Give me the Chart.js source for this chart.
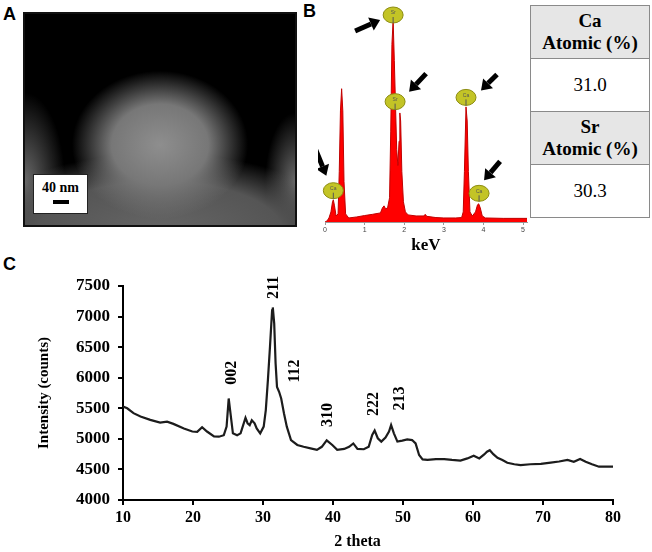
<!DOCTYPE html>
<html lang="en">
<head>
  <meta charset="UTF-8" />
  <title>SrHAp characterisation</title>
  <script src="https://cdn.jsdelivr.net/npm/chart.js"></script>
  <style>
    body {
      margin: 0;
      background: #fff;
      font-family: "Liberation Serif", "Times New Roman", serif;
    }

    .page {
      position: relative;
      width: 652px;
      height: 552px;
      overflow: hidden;
    }

    .panel-letter {
      position: absolute;
      font-family: "Liberation Sans", Arial, sans-serif;
      font-weight: bold;
      font-size: 18px;
    }

    /* SEM micrograph can't be redrawn, just a rough stand-in */
    .sem {
      position: absolute;
      left: 23px;
      top: 12px;
      width: 270px;
      height: 211px;
      border: 2px solid #111;
      background:
        radial-gradient(ellipse 88px 74px at 50% 62%, #8e8e8e 0%, #777 55%, rgba(0,0,0,0) 100%),
        radial-gradient(ellipse 190px 80px at 50% 104%, #666 0%, #555 65%, rgba(0,0,0,0) 100%),
        radial-gradient(ellipse 40px 90px at 0% 80%, #6a6a6a 0%, rgba(0,0,0,0) 100%),
        radial-gradient(ellipse 30px 70px at 100% 80%, #6a6a6a 0%, rgba(0,0,0,0) 100%),
        #000;
    }

    .scale-box {
      position: absolute;
      left: 8px;
      top: 160px;
      width: 55px;
      height: 40px;
      background: #fff;
      border: 1px solid #222;
      text-align: center;
      font-weight: bold;
      font-size: 14px;
      line-height: 20px;
      padding-top: 3px;
      box-sizing: border-box;
    }

    .scale-box .bar {
      width: 16px;
      height: 4px;
      background: #000;
      margin: 2px auto 0;
    }

    #edsBox {
      position: absolute;
      left: 318px;
      top: 0;
    }

    table.atomic {
      position: absolute;
      left: 530px;
      top: 5px;
      width: 120px;
      border-collapse: collapse;
      font-family: "Liberation Serif", "Times New Roman", serif;
      font-size: 19px;
      text-align: center;
    }

    table.atomic td {
      border: 1.5px solid #8a8a8a;
      height: 52px;
      padding: 0;
      line-height: 22px;
    }

    table.atomic td.head {
      background: #e6e6e6;
      font-weight: bold;
    }

    #xrdBox {
      position: absolute;
      left: 0;
      top: 262px;
    }
  </style>
</head>
<body>
<div class="page">
  <div class="panel-letter" style="left:3px; top:4px;">A</div>
  <div class="sem">
    <div class="scale-box">40 nm<div class="bar"></div></div>
  </div>

  <div class="panel-letter" style="left:303px; top:1px;">B</div>
  <div id="edsBox"><canvas id="edsChart" width="212" height="256"></canvas></div>

  <table class="atomic">
    <tr><td class="head">Ca<br>Atomic (%)</td></tr>
    <tr><td>31.0</td></tr>
    <tr><td class="head">Sr<br>Atomic (%)</td></tr>
    <tr><td>30.3</td></tr>
  </table>

  <div class="panel-letter" style="left:3px; top:254px;">C</div>
  <div id="xrdBox"><canvas id="xrdChart" width="652" height="290"></canvas></div>
</div>

<script>
  // ---- panel B: EDS spectrum (relative counts vs keV)
  const edsKeV = [0, 0.05, 0.10, 0.15, 0.19, 0.21, 0.24, 0.28, 0.33, 0.36, 0.39, 0.42, 0.45, 0.48, 0.52,
    0.60, 0.80, 1.00, 1.20, 1.40, 1.45, 1.49, 1.53, 1.58, 1.63, 1.66, 1.69, 1.72, 1.75, 1.78, 1.81,
    1.84, 1.87, 1.89, 1.91, 1.94, 1.98, 2.03, 2.10, 2.30, 2.50, 2.53, 2.57, 2.80, 3.00, 3.30, 3.45,
    3.49, 3.52, 3.56, 3.59, 3.62, 3.66, 3.72, 3.80, 3.85, 3.88, 3.92, 3.97, 4.05, 4.50, 5.00, 5.10];
  const edsCounts = [0, 0.5, 2, 5, 10, 11, 8, 3, 4, 25, 55, 66, 55, 20, 4,
    2, 2.5, 3.2, 3.8, 4.5, 7, 8, 6.5, 7, 12, 45, 88, 100, 80, 58, 36,
    28, 40, 54, 50, 25, 10, 5, 3.5, 3, 3, 3.8, 2.8, 2.2, 2, 2, 2.2,
    5, 25, 57, 50, 25, 5, 3, 5, 8.5, 9, 7, 3, 2, 1.8, 1.8, 1.8];
  const edsTicks = [0, 1, 2, 3, 4, 5];

  // element markers on the spectrum
  const markerLabels = ['Ca', 'Sr', 'Sr', 'Ca', 'Ca'];
  const markerKeV = [0.21, 1.72, 1.77, 3.56, 3.89];
  const markerLevel = [15.5, 102.5, 59.6, 61.7, 14.2];

  // ---- panel C: XRD pattern
  const xrdTheta = [10, 10.6, 11.5, 12.5, 13.9, 15.3, 16.3, 17.2, 18.7, 19.9, 20.6, 21.3, 22, 23, 23.7,
    24.4, 24.8, 25.1, 25.3, 25.7, 26.3, 26.8, 27.1, 27.5, 27.8, 28.1, 28.4, 28.8, 29.1, 29.6, 30.1,
    30.4, 30.7, 31.0, 31.3, 31.4, 31.6, 31.8, 32.0, 32.3, 32.6, 33.0, 33.4, 34.0, 34.9, 35.8, 36.8,
    37.7, 38.4, 39.1, 39.9, 40.6, 41.6, 42.3, 42.9, 43.5, 44.4, 45.1, 45.6, 45.95, 46.4, 46.9, 47.5,
    48.0, 48.3, 48.7, 49.2, 49.9, 50.6, 51.3, 51.8, 52.3, 52.8, 53.5, 54.7, 55.9, 57.0, 58.2, 59.2,
    60.1, 60.9, 61.6, 62.0, 62.4, 62.9, 63.5, 64.2, 64.9, 65.9, 66.8, 68.2, 69.7, 71.1, 72.3, 73.5,
    74.4, 75.3, 76.1, 77.0, 78.0, 79.0, 80];
  const xrdCounts = [5530, 5500, 5420, 5365, 5310, 5265, 5280, 5245, 5170, 5120, 5115, 5190, 5120, 5040, 5035,
    5060, 5200, 5660, 5470, 5090, 5060, 5090, 5200, 5345, 5255, 5225, 5305, 5255, 5170, 5090, 5200,
    5470, 5960, 6510, 7100, 7150, 6890, 6235, 5850, 5770, 5660, 5415, 5200, 4980, 4900, 4870, 4845,
    4820, 4870, 4975, 4900, 4820, 4835, 4870, 4925, 4835, 4830, 4870, 5065, 5135, 5010, 4955, 5020,
    5120, 5225, 5090, 4955, 4970, 4990, 4980, 4925, 4735, 4665, 4655, 4670, 4670, 4655, 4645, 4680,
    4725, 4680, 4745, 4790, 4815, 4750, 4690, 4655, 4610, 4585, 4570, 4585, 4590, 4610, 4630, 4655,
    4625, 4670, 4625, 4585, 4545, 4545, 4545];
  const xrdYTicks = [4000, 4500, 5000, 5500, 6000, 6500, 7000, 7500];
  const xrdXTicks = [10, 20, 30, 40, 50, 60, 70, 80];

  // hkl labels (centre of the rotated text)
  const peakLabels = ['002', '211', '112', '310', '222', '213'];
  const peakTheta = [25.6, 31.5, 34.6, 39.3, 45.9, 49.5];
  const peakLevel = [6080, 7475, 6110, 5390, 5570, 5660];

  const serif = '"Liberation Serif", "Times New Roman", serif';

  // arrows pointing at the markers: [tailDx, tailDy, headDx, headDy] from marker centre
  const arrowGeom = [[-18, -42, -7, -15], [-38, 16, -13, 5], [31, -28, 14, -10], [31, -23, 15, -7], [21, -32, 5, -13]];

  function drawArrow(ctx, x0, y0, x1, y1) {
    const ang = Math.atan2(y1 - y0, x1 - x0);
    const headLen = 10, headW = 7;
    const bx = x1 - Math.cos(ang) * headLen;
    const by = y1 - Math.sin(ang) * headLen;
    ctx.strokeStyle = '#000';
    ctx.fillStyle = '#000';
    ctx.lineWidth = 5;
    ctx.beginPath();
    ctx.moveTo(x0, y0);
    ctx.lineTo(bx, by);
    ctx.stroke();
    ctx.beginPath();
    ctx.moveTo(x1, y1);
    ctx.lineTo(bx + Math.sin(ang) * headW, by - Math.cos(ang) * headW);
    ctx.lineTo(bx - Math.sin(ang) * headW, by + Math.cos(ang) * headW);
    ctx.closePath();
    ctx.fill();
  }

  const edsMarkers = {
    id: 'edsMarkers',
    afterDatasetsDraw(chart) {
      const ctx = chart.ctx;
      const xs = chart.scales.x, ys = chart.scales.y;
      ctx.save();
      markerLabels.forEach((lab, i) => {
        const px = xs.getPixelForValue(markerKeV[i]);
        const py = ys.getPixelForValue(markerLevel[i]);
        ctx.beginPath();
        ctx.ellipse(px, py, 10, 8, 0, 0, Math.PI * 2);
        ctx.fillStyle = '#c3c426';
        ctx.fill();
        ctx.lineWidth = 1;
        ctx.strokeStyle = '#8c8c12';
        ctx.stroke();
        ctx.beginPath();
        ctx.moveTo(px, py + 2);
        ctx.lineTo(px, py + 8);
        ctx.strokeStyle = '#555';
        ctx.stroke();
        ctx.fillStyle = '#555';
        ctx.font = '5px "Liberation Sans", Arial, sans-serif';
        ctx.textAlign = 'center';
        ctx.textBaseline = 'middle';
        ctx.fillText(lab, px, py - 2);
        const g = arrowGeom[i];
        drawArrow(ctx, px + g[0], py + g[1], px + g[2], py + g[3]);
      });
      ctx.restore();
    }
  };

  new Chart(document.getElementById('edsChart'), {
    type: 'line',
    data: {
      datasets: [{
        data: edsKeV.map((k, i) => ({ x: k, y: edsCounts[i] })),
        borderColor: '#c00000',
        backgroundColor: '#ff0000',
        borderWidth: 1,
        pointRadius: 0,
        tension: 0,
        fill: 'origin'
      }]
    },
    options: {
      responsive: false,
      animation: false,
      layout: { padding: { left: 7, right: 3, top: 15, bottom: 0 } },
      plugins: { legend: { display: false }, tooltip: { enabled: false } },
      scales: {
        x: {
          type: 'linear',
          min: 0,
          max: 5.1,
          afterBuildTicks: s => { s.ticks = edsTicks.map(v => ({ value: v })); },
          afterFit: s => { s.height = 34; },
          ticks: { font: { size: 7, family: '"Liberation Sans", Arial, sans-serif' }, color: '#444', padding: 1, maxRotation: 0 },
          grid: { drawOnChartArea: false, tickLength: 3, color: '#999' },
          border: { color: '#999', width: 1 },
          title: { display: true, text: 'keV', color: '#000', font: { size: 17, weight: 'bold', family: serif }, padding: { top: 0, bottom: 0 } }
        },
        y: { display: false, min: 0, max: 102.5 }
      }
    },
    plugins: [edsMarkers]
  });

  const xrdText = {
    id: 'xrdText',
    afterDraw(chart) {
      const ctx = chart.ctx;
      const xs = chart.scales.x, ys = chart.scales.y;
      ctx.save();
      ctx.fillStyle = '#000';
      ctx.font = 'bold 16px ' + serif;
      ctx.textAlign = 'center';
      ctx.textBaseline = 'middle';
      peakLabels.forEach((lab, i) => {
        ctx.save();
        ctx.translate(xs.getPixelForValue(peakTheta[i]), ys.getPixelForValue(peakLevel[i]));
        ctx.rotate(-Math.PI / 2);
        ctx.fillText(lab, 0, 0);
        ctx.restore();
      });
      // x axis title sits left of centre in the original
      ctx.fillText('2 theta', xs.getPixelForValue(43.5), 280);
      ctx.restore();
    }
  };

  new Chart(document.getElementById('xrdChart'), {
    type: 'line',
    data: {
      datasets: [{
        data: xrdTheta.map((t, i) => ({ x: t, y: xrdCounts[i] })),
        borderColor: '#1c1c1c',
        borderWidth: 2.2,
        pointRadius: 0,
        tension: 0,
        fill: false
      }]
    },
    options: {
      responsive: false,
      animation: false,
      layout: { padding: { left: 0, right: 39, top: 24, bottom: 0 } },
      plugins: { legend: { display: false }, tooltip: { enabled: false } },
      scales: {
        x: {
          type: 'linear',
          min: 10,
          max: 80,
          afterBuildTicks: s => { s.ticks = xrdXTicks.map(v => ({ value: v })); },
          afterFit: s => { s.height = 52; },
          ticks: { font: { size: 16, weight: 'bold', family: serif }, color: '#000', padding: 3, maxRotation: 0 },
          grid: { drawOnChartArea: false, tickLength: 5, color: '#000', lineWidth: 2 },
          border: { color: '#000', width: 2 }
        },
        y: {
          min: 4000,
          max: 7500,
          afterBuildTicks: s => { s.ticks = xrdYTicks.map(v => ({ value: v })); },
          afterFit: s => { s.width = 123; },
          ticks: { font: { size: 17, weight: 'bold', family: serif }, color: '#000', padding: 8, callback: v => String(v) },
          grid: { drawOnChartArea: false, tickLength: 5, color: '#000', lineWidth: 2 },
          border: { color: '#000', width: 2 },
          title: { display: true, text: 'Intensity (counts)', color: '#000', font: { size: 15, weight: 'bold', family: serif }, padding: { top: 35, bottom: 0 } }
        }
      }
    },
    plugins: [xrdText]
  });
</script>
</body>
</html>
